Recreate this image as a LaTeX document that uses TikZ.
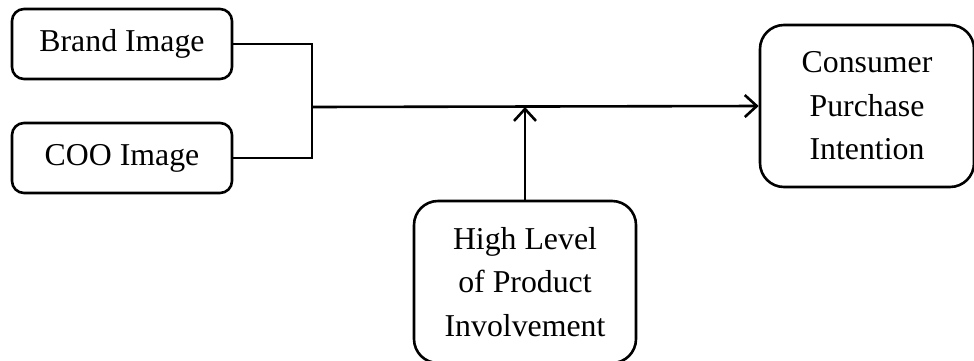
\documentclass[tikz,border=0pt]{standalone}
\usepackage{fontspec}
\setmainfont{Liberation Serif}
\usetikzlibrary{positioning, arrows.meta}

\begin{document}
\begin{tikzpicture}[x=0.5pt, y=-0.5pt, >={Straight Barb[length=6pt,width=11pt]},
    every node/.style={font=\fontsize{15.9}{21.8}\selectfont, align=center, inner sep=0pt},
    factor/.style={draw, line width=1.3pt, rounded corners=6pt, minimum width=110pt, minimum height=35pt},
    outcome/.style={draw, line width=1.3pt, rounded corners=12pt, minimum width=107pt, minimum height=81pt},
    link/.style={line width=1.3pt}]
    \useasboundingbox (0,0) rectangle (974,360);

    \node[factor] (brand) at (122,44) {Brand Image};
    \node[factor] (coo) at (122,158) {COO Image};

    \node[outcome] (cpi) at (867,106) {Consumer\\Purchase\\Intention};
    \node[outcome, minimum width=111pt, minimum height=81pt] (hlpi) at (525,282) {High Level\\of Product\\Involvement};

    \coordinate (jn) at (312,107);
    \coordinate (hit) at (hlpi.north |- jn);

    \draw[link] (brand.east) -| (jn);
    \draw[link] (coo.east) -| (jn);
    \draw[link, ->] (jn) -- (cpi.west);
    \draw[link, ->] (hlpi.north) -- (hit);
\end{tikzpicture}
\end{document}
